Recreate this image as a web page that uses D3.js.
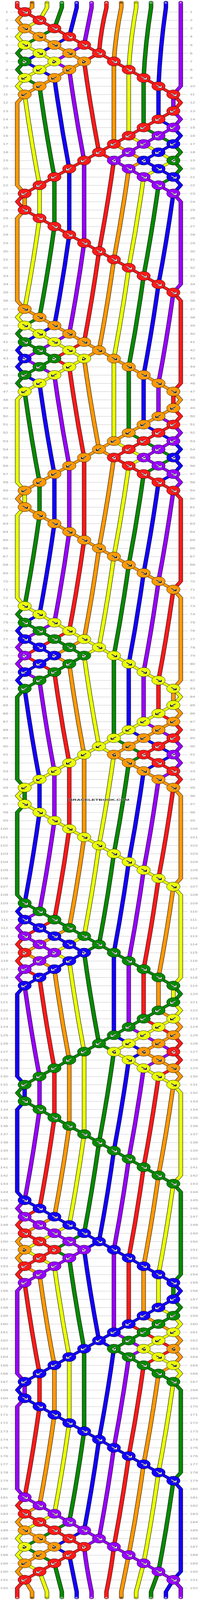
<!DOCTYPE html>
<html>
<head>
<title>Bracelet pattern</title>
<script src="https://d3js.org/d3.v7.min.js"></script>
<style>
  body { margin: 0; background: #fff; }
  text { font-family: "Liberation Sans", Arial, sans-serif; }
</style>
</head>
<body>
<script>
// strings, left to right, as they hang at the top
var letters = ["A", "B", "C", "D", "E", "F", "A", "B", "C", "D", "E", "F"];
var letterColors = {A: "#ff1a1a", B: "#ff9900", C: "#eaff00", D: "#078a00", E: "#1400ff", F: "#9900ff"};
var letterInk = {A: "#fff", B: "#000", C: "#000", D: "#fff", E: "#fff", F: "#fff"};
var arrowInk = {A: "#fff", B: "#000", C: "#000", D: "#fff", E: "#fff", F: "#fff"};
var arrowEdge = {A: "#000", B: "#fff", C: "#fff", D: "#000", E: "#000", F: "#000"};

// one entry per row. odd rows have 6 knot places, even rows 5
// f forward, b backward, r forward-backward, l backward-forward, . nothing
var knotRows = [
  "f.....", "f....", "ff....", "ff...", "fff...", "fff..", "rrrf..", "bb.f.", "bb..f.", "b...f", "b....f", ".....",
  ".....b", "....b", "....bb", "...bb", "...bbb", "..bbb", "..blll", ".b.ff", ".b..ff", "b...f", "b....f", ".....",
  "f.....", "f....", ".f....", ".f...", "..f...", "..f..", "...f..", "...f.", "....f.", "....f", ".....f", ".....",
  "f.....", "f....", "ff....", "ff...", "fff...", "fff..", "rrrf..", "bb.f.", "bb..f.", "b...f", "b....f", ".....",
  ".....b", "....b", "....bb", "...bb", "...bbb", "..bbb", "..blll", ".b.ff", ".b..ff", "b...f", "b....f", ".....",
  "f.....", "f....", ".f....", ".f...", "..f...", "..f..", "...f..", "...f.", "....f.", "....f", ".....f", ".....",
  "f.....", "f....", "ff....", "ff...", "fff...", "fff..", "rrrf..", "bb.f.", "bb..f.", "b...f", "b....f", ".....",
  ".....b", "....b", "....bb", "...bb", "...bbb", "..bbb", "..blll", ".b.ff", ".b..ff", "b...f", "b....f", ".....",
  "f.....", "f....", ".f....", ".f...", "..f...", "..f..", "...f..", "...f.", "....f.", "....f", ".....f", ".....",
  "f.....", "f....", "ff....", "ff...", "fff...", "fff..", "rrrf..", "bb.f.", "bb..f.", "b...f", "b....f", ".....",
  ".....b", "....b", "....bb", "...bb", "...bbb", "..bbb", "..blll", ".b.ff", ".b..ff", "b...f", "b....f", ".....",
  "f.....", "f....", ".f....", ".f...", "..f...", "..f..", "...f..", "...f.", "....f.", "....f", ".....f", ".....",
  "f.....", "f....", "ff....", "ff...", "fff...", "fff..", "rrrf..", "bb.f.", "bb..f.", "b...f", "b....f", ".....",
  ".....b", "....b", "....bb", "...bb", "...bbb", "..bbb", "..blll", ".b.ff", ".b..ff", "b...f", "b....f", ".....",
  "f.....", "f....", ".f....", ".f...", "..f...", "..f..", "...f..", "...f.", "....f.", "....f", ".....f", ".....",
  "f.....", "f....", "ff....", "ff...", "fff...", "fff..", "rrrf..", "bb.f.", "bb..f.", "b...f", "b....f", "....."
];
var rowLabels = knotRows.map(function(d, i) { return i + 1; });

var width = 506, height = 7368;
var topEnd = 10, topBend = 35, bottomBend = 7330, bottomEnd = 7358;

var x = d3.scaleLinear().domain([0, 11]).range([44, 462]);
var y = d3.scaleLinear().domain([1, 192]).range([55, 7313]);

// the window can come out shorter than asked, keep the whole pattern in it
var svg = d3.select("body").append("svg")
  .attr("width", width)
  .attr("height", Math.min(height, window.innerHeight))
  .attr("viewBox", "0 0 " + width + " " + height)
  .attr("preserveAspectRatio", "none")
  .style("display", "block");

// the rows
svg.append("g")
  .attr("transform", "translate(26,0)")
  .call(d3.axisLeft(y).tickValues(rowLabels).tickFormat(d3.format("d")).tickSize(-454).tickPadding(5))
  .call(function(g) { g.select(".domain").remove(); })
  .call(function(g) { g.selectAll("line").attr("stroke", "#bbb"); })
  .call(function(g) { g.selectAll("text").attr("fill", "#999").attr("font-size", 12.4).attr("font-family", null); });

svg.append("g")
  .attr("transform", "translate(480,0)")
  .call(d3.axisRight(y).tickValues(rowLabels).tickFormat(d3.format("d")).tickSize(0).tickPadding(5))
  .call(function(g) { g.select(".domain").remove(); })
  .call(function(g) { g.selectAll("text").attr("fill", "#999").attr("font-size", 12.4).attr("font-family", null); });

// walk the strings through the knots
var strands = letters.map(function(l, i) {
  return {letter: l, color: letterColors[l], slot: i, path: d3.path(), px: x(i), py: topEnd, fromKnot: false};
});
strands.forEach(function(s) {
  s.path.moveTo(s.px, s.py);
  s.path.lineTo(s.px, topBend);
  s.py = topBend;
});

function curveTo(s, tx, ty, sign) {
  var span = ty - s.py;
  var bow = span > 200 ? sign : 0;
  var dir = tx > s.px ? 1 : tx < s.px ? -1 : 0;
  s.path.quadraticCurveTo((s.px + tx) / 2 + 2 * bow * dir, (s.py + ty) / 2, tx, ty);
  s.px = tx; s.py = ty;
}

function edgeTo(s, edgeX, row, kx, ky) {
  // strings on the edge swing out to the margin and back
  if (s.fromKnot) {
    s.path.lineTo(edgeX, y(s.row + 1));
  }
  var bend = Math.max(y(row - 1), topBend);
  s.path.lineTo(edgeX, bend);
  s.path.lineTo(kx, ky);
  s.px = kx; s.py = ky;
}

var slots = strands.slice();
var knots = [];

knotRows.forEach(function(code, r) {
  var row = r + 1;
  var first = row % 2 === 1 ? 0 : 1;
  code.split("").forEach(function(type, c) {
    if (type === ".") return;
    var i = first + c * 2;
    var kx = x(i + 0.5), ky = y(row);
    var a = slots[i], b = slots[i + 1];
    var top = (type === "f" || type === "r") ? a : b;
    if (i === 0) edgeTo(a, x(0), row, kx, ky);
    else curveTo(a, kx, ky, a.fromKnot ? -1.5 : 2.5);
    if (i + 1 === 11) edgeTo(b, x(11), row, kx, ky);
    else curveTo(b, kx, ky, b.fromKnot ? -1.5 : 2.5);
    a.fromKnot = b.fromKnot = true;
    a.row = b.row = row;
    if (type === "f" || type === "b") {
      slots[i] = b;
      slots[i + 1] = a;
    }
    knots.push({x: kx, y: ky, type: type, letter: top.letter});
  });
});

slots.forEach(function(s, i) {
  if (i === 0 || i === 11) {
    s.path.lineTo(x(i), y(s.row + 1));
  } else {
    curveTo(s, x(i), bottomBend, -1.5);
  }
  s.path.lineTo(x(i), bottomEnd);
});

var strandG = svg.append("g").attr("fill", "none").attr("stroke-linecap", "round").attr("stroke-linejoin", "round");
strands.forEach(function(s) {
  strandG.append("path").attr("d", s.path.toString()).attr("stroke", "#000").attr("stroke-width", 11);
  strandG.append("path").attr("d", s.path.toString()).attr("stroke", s.color).attr("stroke-width", 9);
});

// knots
var knotG = svg.selectAll(".knot")
  .data(knots)
  .enter().append("g")
  .attr("class", "knot")
  .attr("transform", function(d) { return "translate(" + d.x + "," + d.y + ")"; });

knotG.append("ellipse")
  .attr("rx", 17.2)
  .attr("ry", 21.2)
  .attr("fill", function(d) { return letterColors[d.letter]; })
  .attr("stroke", "#000")
  .attr("stroke-width", 1);

var arrowShapes = {
  f: "M-5.6,-5.6L6,5.4M7,-2.3L7,6L-1.3,6",
  b: "M5.6,-5.6L-6,5.4M-7,-2.3L-7,6L1.3,6",
  r: "M-4,-7L4.3,1.5L-3,6M-4,0L-4,6.7L1.7,6.7",
  l: "M4,-7L-4.3,1.5L3,6M4,0L4,6.7L-1.7,6.7"
};
knotG.append("path")
  .attr("d", function(d) { return arrowShapes[d.type]; })
  .attr("fill", "none")
  .attr("stroke", function(d) { return arrowEdge[d.letter]; })
  .attr("stroke-width", 4.4);
knotG.append("path")
  .attr("d", function(d) { return arrowShapes[d.type]; })
  .attr("fill", "none")
  .attr("stroke", function(d) { return arrowInk[d.letter]; })
  .attr("stroke-width", 2.4);

// names on the ends of the strings
[12, 7356].forEach(function(ly) {
  svg.append("g").selectAll("text")
    .data(letters)
    .enter().append("text")
    .attr("x", function(d, i) { return x(i); })
    .attr("y", ly)
    .attr("dy", "0.36em")
    .attr("text-anchor", "middle")
    .attr("font-size", 11)
    .attr("fill", function(d) { return letterInk[d]; })
    .text(function(d) { return d; });
});

svg.append("text")
  .attr("x", 253)
  .attr("y", 3688)
  .attr("text-anchor", "middle")
  .attr("font-size", 14)
  .attr("font-weight", "bold")
  .attr("fill", "#333")
  .attr("stroke", "#fff")
  .attr("stroke-opacity", 0.6)
  .attr("stroke-width", 1.5)
  .attr("paint-order", "stroke")
  .text("BRACELETBOOK.COM");
</script>
</body>
</html>
